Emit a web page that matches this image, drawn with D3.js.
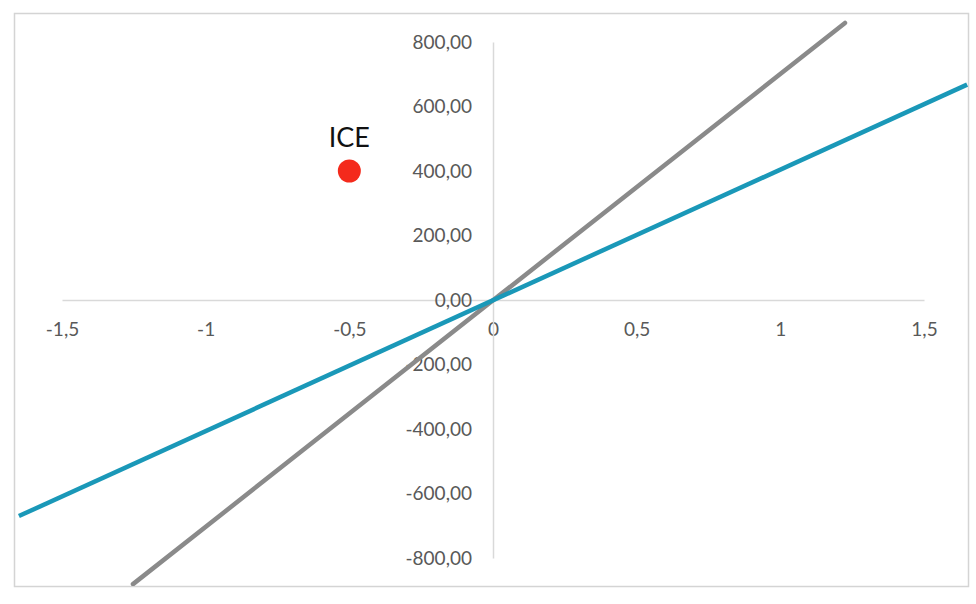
<!DOCTYPE html>
<html>
<head>
<meta charset="utf-8">
<script src="https://cdn.jsdelivr.net/npm/d3@7"></script>
<style>
  body { margin: 0; background: #fff; }
  text { font-family: Lato, "Open Sans", sans-serif; }
</style>
</head>
<body>
<div class="chart"></div>
<script>
// values
var xTicks = [-1.5, -1, -0.5, 0, 0.5, 1, 1.5]
var yTicks = [-800, -600, -400, -200, 0, 200, 400, 600, 800]

var blueX = [-1.65, 1.65]
var blueY = [-670, 668]
var greyX = [-1.253, 1.225]
var greyY = [-881, 859]

var iceX = [-0.5]
var iceY = [400]
var iceLabel = ['ICE']

var W = 976, H = 604
var frame = { left: 14, top: 13, right: 968, bottom: 586 }

var loc = d3.formatLocale({ decimal: ',', thousands: '.', grouping: [3], currency: ['', ''], minus: '-' })
var fx = loc.format('~g')
var fy = loc.format('.2f')

var x = d3.scaleLinear().domain([-1.5, 1.5]).range([62, 924])
var y = d3.scaleLinear().domain([-800, 800]).range([558, 42])

var svg = d3.select('.chart')
    .append('svg')
    .attr('width', W)
    .attr('height', H)

svg.append('defs').append('clipPath').attr('id', 'clip')
    .append('rect')
    .attr('x', frame.left)
    .attr('y', frame.top)
    .attr('width', frame.right - frame.left)
    .attr('height', frame.bottom - frame.top)

// outer frame
svg.append('rect')
    .attr('x', frame.left + 0.5)
    .attr('y', frame.top + 0.5)
    .attr('width', frame.right - frame.left)
    .attr('height', frame.bottom - frame.top)
    .attr('fill', 'none')
    .attr('stroke', '#d4d4d4')
    .attr('stroke-width', 1.5)

// axis lines through zero
var xAxis = d3.axisBottom(x).tickValues(xTicks).tickSize(0).tickPadding(21).tickFormat(fx)
var yAxis = d3.axisLeft(y).tickValues(yTicks).tickSize(0).tickPadding(21).tickFormat(fy)

var gx = svg.append('g').attr('transform', 'translate(0,' + y(0) + ')').call(xAxis)
var gy = svg.append('g').attr('transform', 'translate(' + x(0) + ',0)').call(yAxis)

svg.selectAll('.domain').attr('stroke', '#d9d9d9').attr('stroke-width', 1.5)
svg.selectAll('.tick text')
    .attr('fill', '#595959')
    .style('font-size', '19px')
    .style('font-family', 'Lato, sans-serif')
gx.selectAll('.tick text').attr('dy', '0.71em').attr('y', 23)
gy.selectAll('.tick text').attr('x', -21)

// threshold lines
var line = d3.line()
    .x(d => x(d[0]))
    .y(d => y(d[1]))

var plot = svg.append('g').attr('clip-path', 'url(#clip)')

plot.append('path')
    .datum(d3.zip(greyX, greyY))
    .attr('d', line)
    .attr('fill', 'none')
    .attr('stroke', '#8a8a8a')
    .attr('stroke-width', 4.5)
    .attr('stroke-linecap', 'round')

plot.append('path')
    .datum(d3.zip(blueX, blueY))
    .attr('d', line)
    .attr('fill', 'none')
    .attr('stroke', '#1a98b8')
    .attr('stroke-width', 4.5)

// ICE point
var ice = d3.zip(iceX, iceY, iceLabel)
svg.selectAll('circle.ice')
    .data(ice)
    .enter()
    .append('circle')
    .attr('class', 'ice')
    .attr('cx', d => x(d[0]))
    .attr('cy', d => y(d[1]))
    .attr('r', 11.5)
    .attr('fill', '#f42a1c')

svg.selectAll('text.ice')
    .data(ice)
    .enter()
    .append('text')
    .attr('class', 'ice')
    .attr('x', d => x(d[0]))
    .attr('y', d => y(d[1]) - 24)
    .attr('text-anchor', 'middle')
    .attr('fill', '#111')
    .style('font-size', '27px')
    .style('font-family', 'Lato, sans-serif')
    .text(d => d[2])
</script>
</body>
</html>
